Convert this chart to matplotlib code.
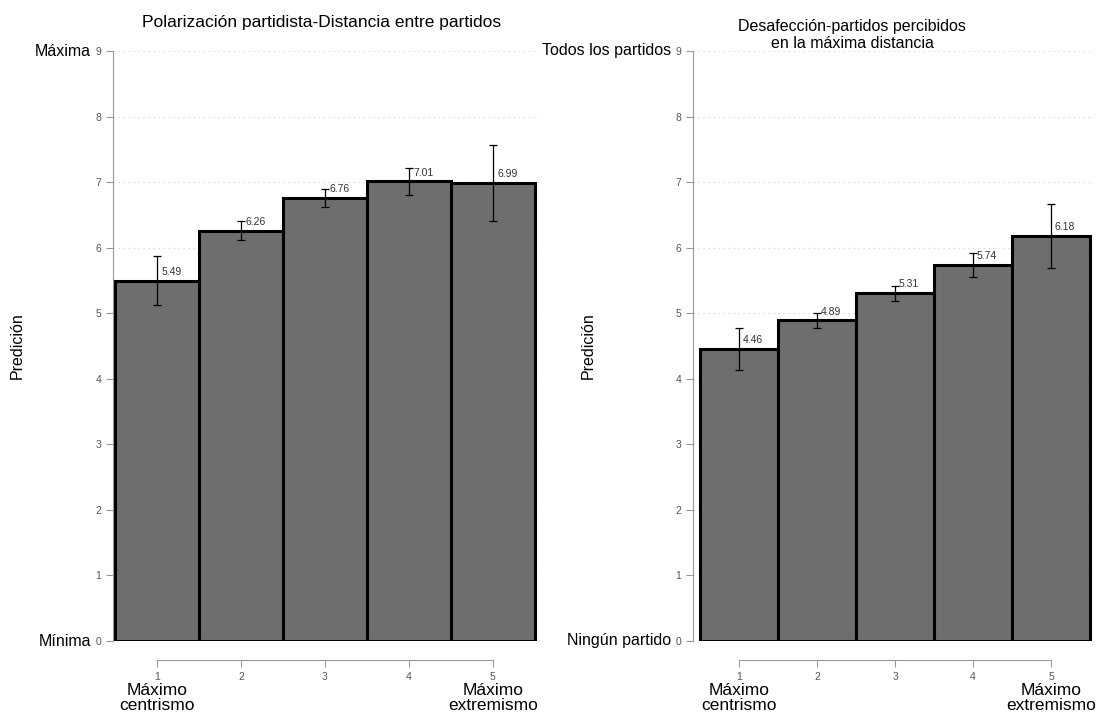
import matplotlib
matplotlib.use("Agg")
import matplotlib.pyplot as plt
import numpy as np

plt.rcParams['font.family'] = ['Liberation Sans', 'DejaVu Sans']

categories = [1, 2, 3, 4, 5]

# Polarización partidista
pol_values = [5.49, 6.26, 6.76, 7.01, 6.99]
pol_low = [5.12, 6.12, 6.62, 6.80, 6.41]
pol_high = [5.87, 6.40, 6.90, 7.22, 7.57]

# Desafección
des_values = [4.46, 4.89, 5.31, 5.74, 6.18]
des_low = [4.13, 4.78, 5.19, 5.55, 5.69]
des_high = [4.78, 5.01, 5.42, 5.92, 6.67]

W, H = 1097, 715
fig = plt.figure(figsize=(W / 100, H / 100), dpi=100)


def panel(ax, values, low, high, title, tsize, pad, top_lab, bot_lab, xlim):
    x = np.array(categories)
    v = np.array(values)
    ax.set_axisbelow(True)
    ax.yaxis.grid(True, linestyle=(0, (1, 3)), color='#d5d5d5', linewidth=0.9)
    ax.bar(x, v, width=1.0, color='#6e6e6e', edgecolor='black', linewidth=2.2, zorder=2)
    err = [v - np.array(low), np.array(high) - v]
    ax.errorbar(x, v, yerr=err, fmt='none', ecolor='black', elinewidth=0.9,
                capsize=3, capthick=0.9, zorder=3)
    for xi, vi in zip(x, v):
        ax.text(xi + 0.05, vi + 0.06, f"{vi:.2f}", fontsize=7.5, color='#333333',
                ha='left', va='bottom', zorder=4)
    ax.set_xlim(*xlim)
    ax.set_ylim(0, 9)
    ax.set_yticks(range(0, 10))
    ax.set_xticks(categories)
    for s in ['top', 'right']:
        ax.spines[s].set_visible(False)
    ax.spines['left'].set_color('#999999')
    ax.spines['left'].set_bounds(0, 9)
    ax.spines['bottom'].set_position(('outward', 14))
    ax.spines['bottom'].set_bounds(1, 5)
    ax.spines['bottom'].set_color('#999999')
    ax.tick_params(axis='both', colors='#999999', labelcolor='#555555', labelsize=7.5,
                   length=5, width=0.8)
    ax.set_title(title, fontsize=tsize, pad=pad)
    ax.set_ylabel('Predición', fontsize=11.5)
    ax.annotate(top_lab, (0, 1), xycoords='axes fraction', xytext=(-16, 0),
                textcoords='offset points', ha='right', va='center', fontsize=11.5)
    ax.annotate(bot_lab, (0, 0), xycoords='axes fraction', xytext=(-16, 0),
                textcoords='offset points', ha='right', va='center', fontsize=11.5)
    ax.annotate('Máximo\ncentrismo', (1, 0), xycoords=('data', 'axes fraction'),
                xytext=(0, -30), textcoords='offset points', ha='center', va='top',
                fontsize=12.5, linespacing=1.0)
    ax.annotate('Máximo\nextremismo', (5, 0), xycoords=('data', 'axes fraction'),
                xytext=(0, -30), textcoords='offset points', ha='center', va='top',
                fontsize=12.5, linespacing=1.0)


ax1 = fig.add_axes([113 / W, 74 / H, 426 / W, 590 / H])
panel(ax1, pol_values, pol_low, pol_high,
      'Polarización partidista-Distancia entre partidos', 12.5, 17, 'Máxima', 'Mínima',
      (0.475, 5.55))
ax1.yaxis.set_label_coords(-0.206, 0.5)
ax1.title.set_position((0.49, 1.0))

ax2 = fig.add_axes([693 / W, 74 / H, 401 / W, 590 / H])
panel(ax2, des_values, des_low, des_high,
      'Desafección-partidos percibidos\nen la máxima distancia', 11.5, 2,
      'Todos los partidos', 'Ningún partido', (0.41, 5.55))
ax2.yaxis.set_label_coords(-0.243, 0.5)
ax2.title.set_position((0.397, 1.0))

fig.savefig('out.png', dpi=100)
